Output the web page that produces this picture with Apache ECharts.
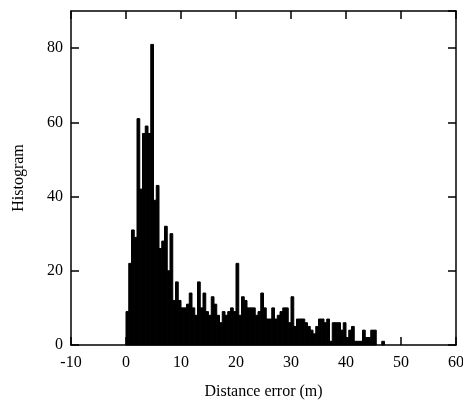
<!DOCTYPE html>
<html>
<head>
<meta charset="utf-8">
<script src="https://cdn.jsdelivr.net/npm/echarts@6/dist/echarts.min.js"></script>
<style>
  html, body { margin: 0; padding: 0; background: #fff; }
  #chart { width: 463px; height: 402px; }
</style>
</head>
<body>
<div id="chart"></div>
<script>
// histogram of distance error, bins of 0.5 m starting at 0
const binWidth = 0.5;
const counts = [
  9, 22, 31, 29, 61, 42, 57, 59, 57, 81,
  39, 43, 26, 28, 32, 20, 30, 12, 17, 12,
  10, 10, 11, 14, 10, 8, 17, 10, 14, 9,
  8, 13, 11, 8, 6, 9, 8, 9, 10, 9,
  22, 8, 13, 12, 10, 10, 10, 8, 9, 14,
  10, 7, 7, 10, 7, 8, 9, 10, 10, 6,
  13, 5, 7, 7, 7, 6, 5, 4, 3, 5,
  7, 7, 6, 7, 1, 6, 6, 6, 4, 6,
  2, 4, 5, 1, 1, 1, 4, 2, 2, 4,
  4, 0, 0, 1
];
const xTicks = [-10, 0, 10, 20, 30, 40, 50, 60];
const yTicks = [0, 20, 40, 60, 80];

const font = 'Liberation Serif, Times New Roman, serif';
const chart = echarts.init(document.getElementById('chart'));

const bins = counts.map((c, i) => [i * binWidth, c]);

const lineStyle = { color: '#000', width: 1.5 };
const tickStyle = { show: true, inside: true, length: 8, lineStyle: { color: '#000', width: 1.5 } };

chart.setOption({
  animation: false,
  backgroundColor: '#fff',
  grid: { left: 71, right: 7, top: 11, bottom: 57, containLabel: false, outerBoundsMode: 'none' },
  xAxis: [
    {
      type: 'value', min: xTicks[0], max: xTicks[xTicks.length - 1], interval: 10,
      position: 'bottom',
      axisLine: { show: true, onZero: false, lineStyle },
      axisTick: tickStyle,
      splitLine: { show: false },
      axisLabel: { color: '#000', fontFamily: font, fontSize: 16, margin: 10 },
      name: 'Distance error (m)', nameLocation: 'middle', nameGap: 39,
      nameTextStyle: { color: '#000', fontFamily: font, fontSize: 16 }
    },
    {
      type: 'value', min: xTicks[0], max: xTicks[xTicks.length - 1], interval: 10,
      position: 'top',
      axisLine: { show: true, onZero: false, lineStyle },
      axisTick: tickStyle,
      splitLine: { show: false },
      axisLabel: { show: false }
    }
  ],
  yAxis: [
    {
      type: 'value', min: yTicks[0], max: 90, interval: 20,
      position: 'left',
      axisLine: { show: true, onZero: false, lineStyle },
      axisTick: tickStyle,
      splitLine: { show: false },
      axisLabel: { color: '#000', fontFamily: font, fontSize: 16, margin: 8, showMaxLabel: false },
      name: 'Histogram', nameLocation: 'middle', nameGap: 44,
      nameTextStyle: { color: '#000', fontFamily: font, fontSize: 16 }
    },
    {
      type: 'value', min: yTicks[0], max: 90, interval: 20,
      position: 'right',
      axisLine: { show: true, onZero: false, lineStyle },
      axisTick: tickStyle,
      splitLine: { show: false },
      axisLabel: { show: false }
    }
  ],
  series: [
    {
      type: 'custom',
      xAxisIndex: 0,
      yAxisIndex: 0,
      data: bins,
      renderItem: function (params, api) {
        const x0 = api.value(0);
        const v = api.value(1);
        if (!v) return null;
        const p0 = api.coord([x0, v]);
        const p1 = api.coord([x0 + binWidth, 0]);
        return {
          type: 'rect',
          shape: { x: p0[0], y: p0[1], width: p1[0] - p0[0], height: p1[1] - p0[1] },
          style: { fill: '#000', stroke: '#000', lineWidth: 1 }
        };
      },
      encode: { x: 0, y: 1 },
      z: 1
    }
  ]
});
</script>
</body>
</html>
